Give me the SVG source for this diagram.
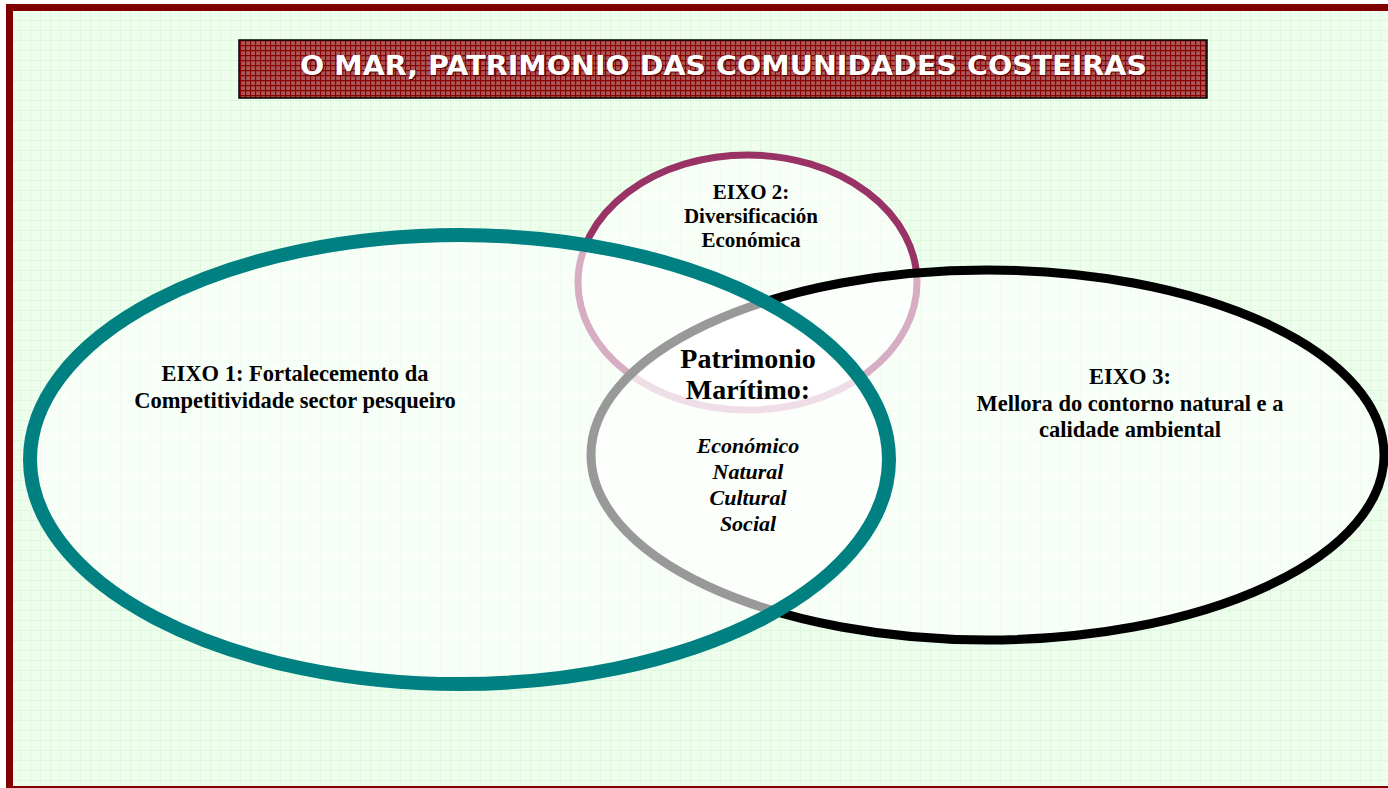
<svg xmlns="http://www.w3.org/2000/svg" width="1388" height="788" viewBox="0 0 1388 788">
<defs>
<pattern id="grid" width="10" height="10" patternUnits="userSpaceOnUse">
<rect width="10" height="10" fill="#effdef"/>
<path d="M0 0.5H10M0.5 0V10" stroke="#dcf9dc" stroke-width="1"/>
</pattern>
<pattern id="plaid" width="5" height="5" patternUnits="userSpaceOnUse">
<rect width="5" height="5" fill="#a85858"/>
<path d="M0 0.5H5M0.5 0V5" stroke="#8b0000" stroke-width="1.3"/>
</pattern>
<style>
.lbl{font-family:"Liberation Serif","Times New Roman",serif;font-weight:bold;fill:#000;text-anchor:middle}
.it{font-style:italic}
.ell{fill:#ffffff;fill-opacity:0.6}
</style>
</defs>
<rect width="1388" height="788" fill="#ffffff"/>
<rect x="9.5" y="7.5" width="1392" height="782" fill="url(#grid)" stroke="#800000" stroke-width="7"/>
<g id="title">
<rect x="239" y="40" width="968" height="58" fill="url(#plaid)" stroke="#000" stroke-width="1.5"/>
<text x="724.5" y="76" font-family="'DejaVu Sans',Verdana,sans-serif" font-weight="bold" font-size="27" fill="#5a0000" text-anchor="middle" textLength="847" lengthAdjust="spacingAndGlyphs">O MAR, PATRIMONIO DAS COMUNIDADES COSTEIRAS</text>
<text x="723.5" y="75" font-family="'DejaVu Sans',Verdana,sans-serif" font-weight="bold" font-size="27" fill="#fff" text-anchor="middle" textLength="847" lengthAdjust="spacingAndGlyphs">O MAR, PATRIMONIO DAS COMUNIDADES COSTEIRAS</text>
</g>
<g id="connectors"/>
<g id="eixo2">
<ellipse class="ell" cx="747.5" cy="282.5" rx="169.5" ry="127.5" stroke="#993366" stroke-width="7"/>
<text class="lbl" font-size="21" x="751" y="199">EIXO 2:</text>
<text class="lbl" font-size="21" x="751" y="223">Diversificación</text>
<text class="lbl" font-size="21" x="751" y="247">Económica</text>
</g>
<g id="eixo3">
<ellipse class="ell" cx="987.5" cy="455" rx="396.5" ry="185" stroke="#000" stroke-width="9"/>
<text class="lbl" font-size="22.5" x="1130" y="384">EIXO 3:</text>
<text class="lbl" font-size="22.5" x="1130" y="411">Mellora do contorno natural e a</text>
<text class="lbl" font-size="22.5" x="1130" y="437">calidade ambiental</text>
</g>
<g id="eixo1">
<ellipse class="ell" cx="459.5" cy="459.5" rx="429.5" ry="224.5" stroke="#008080" stroke-width="14"/>
<text class="lbl" font-size="22.5" x="295" y="381">EIXO 1: Fortalecemento da</text>
<text class="lbl" font-size="22.5" x="295" y="408">Competitividade sector pesqueiro</text>
</g>
<g id="patrimonio">
<text class="lbl" font-size="28" x="748" y="368">Patrimonio</text>
<text class="lbl" font-size="28" x="748" y="399">Marítimo:</text>
<text class="lbl it" font-size="22" x="748" y="453">Económico</text>
<text class="lbl it" font-size="22" x="748" y="479">Natural</text>
<text class="lbl it" font-size="22" x="748" y="505">Cultural</text>
<text class="lbl it" font-size="22" x="748" y="531">Social</text>
</g>
</svg>
